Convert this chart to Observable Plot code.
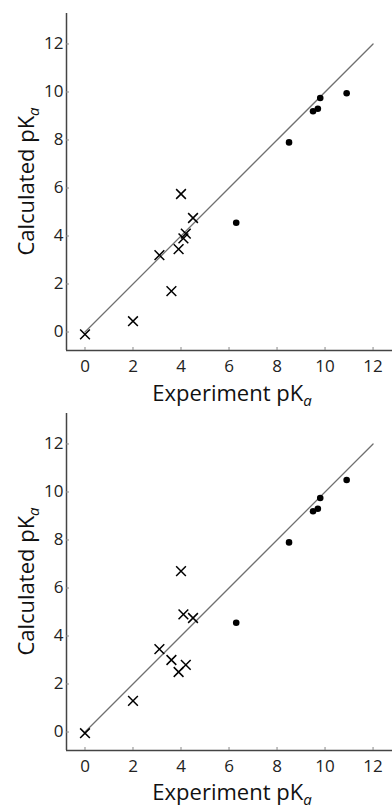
<!DOCTYPE html>
<html><head><meta charset="utf-8">
<script src="https://cdn.jsdelivr.net/npm/d3@7"></script>
<script src="https://cdn.jsdelivr.net/npm/@observablehq/plot@0.6"></script>
<style>html,body{margin:0;padding:0;background:#fff;} svg{display:block}</style>
</head><body><div id="chart"></div>
<script>
const xTicks = [0, 2, 4, 6, 8, 10, 12];
const yTicks = [0, 2, 4, 6, 8, 10, 12];
const topCrossX = [0, 2.0, 3.6, 3.1, 3.9, 4.1, 4.2, 4.0, 4.5];
const topCrossY = [-0.1, 0.45, 1.7, 3.2, 3.45, 3.9, 4.1, 5.75, 4.75];
const topDotX = [6.3, 8.5, 9.5, 9.7, 9.8, 10.9];
const topDotY = [4.55, 7.9, 9.2, 9.3, 9.75, 9.95];
const bottomCrossX = [0, 2.0, 3.1, 3.6, 3.9, 4.2, 4.1, 4.5, 4.0];
const bottomCrossY = [-0.05, 1.3, 3.45, 3.0, 2.5, 2.8, 4.9, 4.75, 6.7];
const bottomDotX = [6.3, 8.5, 9.5, 9.7, 9.8, 10.9];
const bottomDotY = [4.55, 7.9, 9.2, 9.3, 9.75, 10.5];
const identityLine = [0, 12];
const xLabel = "Experiment pK";
const yLabel = "Calculated pK";
const labelSub = "a";
const xDomain = [-0.77, 12.81];
const yDomain = [-0.77, 13.27];

function panel(crossX, crossY, dotX, dotY, opts) {
  const svg = Plot.plot({
    width: 392,
    height: opts.height,
    marginLeft: 66,
    marginRight: 0,
    marginTop: opts.marginTop,
    marginBottom: opts.marginBottom,
    style: {fontFamily: "'Open Sans', sans-serif", fontSize: "17px", color: "#222", background: "white", overflow: "visible"},
    x: {domain: xDomain},
    y: {domain: yDomain},
    marks: [
      Plot.ruleX([xDomain[0]], {stroke: "#444", strokeWidth: 1.5}),
      Plot.ruleY([yDomain[0]], {stroke: "#444", strokeWidth: 1.5}),
      Plot.axisX({ticks: xTicks, tickSize: -3, tickPadding: 12, label: null, stroke: "#888", fill: "#222", fontSize: 17}),
      Plot.axisY({ticks: yTicks, tickSize: -3, tickPadding: 6, label: null, stroke: "#888", fill: "#222", fontSize: 17}),
      Plot.line(identityLine, {x: d => d, y: d => d, stroke: "#707070", strokeWidth: 1.3}),
      Plot.dot(crossX, {x: d => d, y: (d, i) => crossY[i], symbol: "times", r: 4.5, stroke: "black", strokeWidth: 1.5}),
      Plot.dot(dotX, {x: d => d, y: (d, i) => dotY[i], r: 3.3, fill: "black", stroke: "none"})
    ]
  });
  const s = d3.select(svg);
  const xt = s.append("text")
    .attr("x", 232).attr("y", opts.xTitleY)
    .attr("text-anchor", "middle")
    .attr("font-size", 22).attr("fill", "#111")
    .attr("font-family", "'Open Sans', sans-serif");
  xt.append("tspan").text(xLabel);
  xt.append("tspan").attr("font-style", "italic").attr("font-size", 15).attr("dy", "0.3em").text(labelSub);
  const yt = s.append("text")
    .attr("transform", `translate(34,${opts.yTitleY}) rotate(-90)`)
    .attr("text-anchor", "middle")
    .attr("font-size", 22).attr("fill", "#111")
    .attr("font-family", "'Open Sans', sans-serif");
  yt.append("tspan").text(yLabel);
  yt.append("tspan").attr("font-style", "italic").attr("font-size", 15).attr("dy", "0.3em").text(labelSub);
  return svg;
}

const root = document.getElementById("chart");
root.appendChild(panel(topCrossX, topCrossY, topDotX, topDotY, {height: 412, marginTop: 13, marginBottom: 62, xTitleY: 401, yTitleY: 181.5}));
root.appendChild(panel(bottomCrossX, bottomCrossY, bottomDotX, bottomDotY, {height: 397, marginTop: 1, marginBottom: 59, xTitleY: 388, yTitleY: 169.5}));
</script>
</body></html>
